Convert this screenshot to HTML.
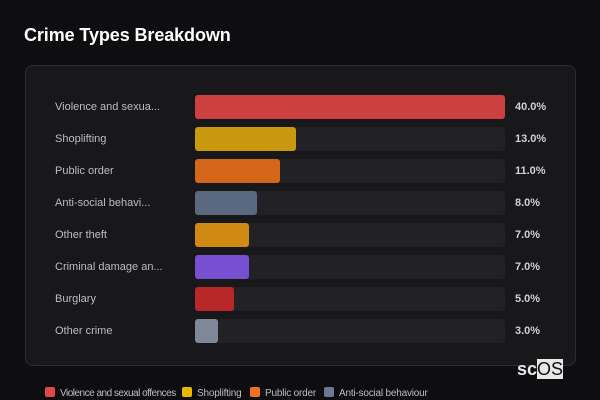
<!DOCTYPE html>
<html><head><meta charset="utf-8"><style>
body{margin:0;width:600px;height:400px;background:#0e0e11;font-family:"Liberation Sans",sans-serif;overflow:hidden;position:relative}
.title{position:absolute;left:24px;top:25px;font-size:18px;font-weight:bold;color:#fff;letter-spacing:-0.1px}
.card{position:absolute;left:25px;top:65px;width:549px;height:299px;border:1px solid #2c2c31;border-radius:8px;background:#18181b}
.lbl{position:absolute;left:55px;font-size:11px;color:#bdbdc2;line-height:14px}
.track{position:absolute;left:195px;width:310px;height:24px;background:#222226;border-radius:3px}
.bar{position:absolute;left:195px;height:24px;border-radius:3px}
.val{position:absolute;left:515px;font-size:11px;font-weight:bold;color:#cfcfd4;line-height:14px}
.it{position:absolute;top:387px;font-size:10px;color:#bdbdc2;white-space:nowrap;letter-spacing:-0.2px;line-height:12px}
.sw{display:inline-block;width:10px;height:10px;border-radius:2px;vertical-align:-1px;margin-right:5px}
.wm{position:absolute;left:517px;top:360px;font-size:18px;font-weight:bold;color:#e8e8e8;line-height:18px}
.wm b{background:#e8e8e8;color:#111;font-weight:normal}
</style></head><body>
<div class="title">Crime Types Breakdown</div>
<div class="card"></div>
<div id="rows"></div>
<div class="wm">sc<b>OS</b></div>
<div>
<span class="it" style="left:45px;letter-spacing:-0.5px"><span class="sw" style="background:#e04848"></span>Violence and sexual offences</span>
<span class="it" style="left:182px"><span class="sw" style="background:#e8b800"></span>Shoplifting</span>
<span class="it" style="left:250px"><span class="sw" style="background:#f07020"></span>Public order</span>
<span class="it" style="left:324px"><span class="sw" style="background:#6a7a94"></span>Anti-social behaviour</span>
</div>
<script>
const categories=["Violence and sexua...","Shoplifting","Public order","Anti-social behavi...","Other theft","Criminal damage an...","Burglary","Other crime"];
const values=[40,13,11,8,7,7,5,3];
const colors=["#cc4040","#c8980e","#d4661a","#5a6880","#d08a14","#7650d0","#b82828","#7e8898"];
const maxV=Math.max(...values);
const x=v=>v/maxV*310;
const rows=document.getElementById('rows');
categories.forEach((c,i)=>{
  const top=95+i*32;
  const l=document.createElement('div');l.className='lbl';l.style.top=(top+5)+'px';l.textContent=c;
  
  
  const t=document.createElement('div');t.className='track';t.style.top=top+'px';
  
  
  const b=document.createElement('div');b.className='bar';b.style.top=top+'px';b.style.width=x(values[i])+'px';b.style.background=colors[i];
  
  
  const v=document.createElement('div');v.className='val';v.style.top=(top+5)+'px';v.textContent=values[i].toFixed(1)+'%';
  
  
  rows.append(l,t,b,v);
});
</script>
</body></html>
